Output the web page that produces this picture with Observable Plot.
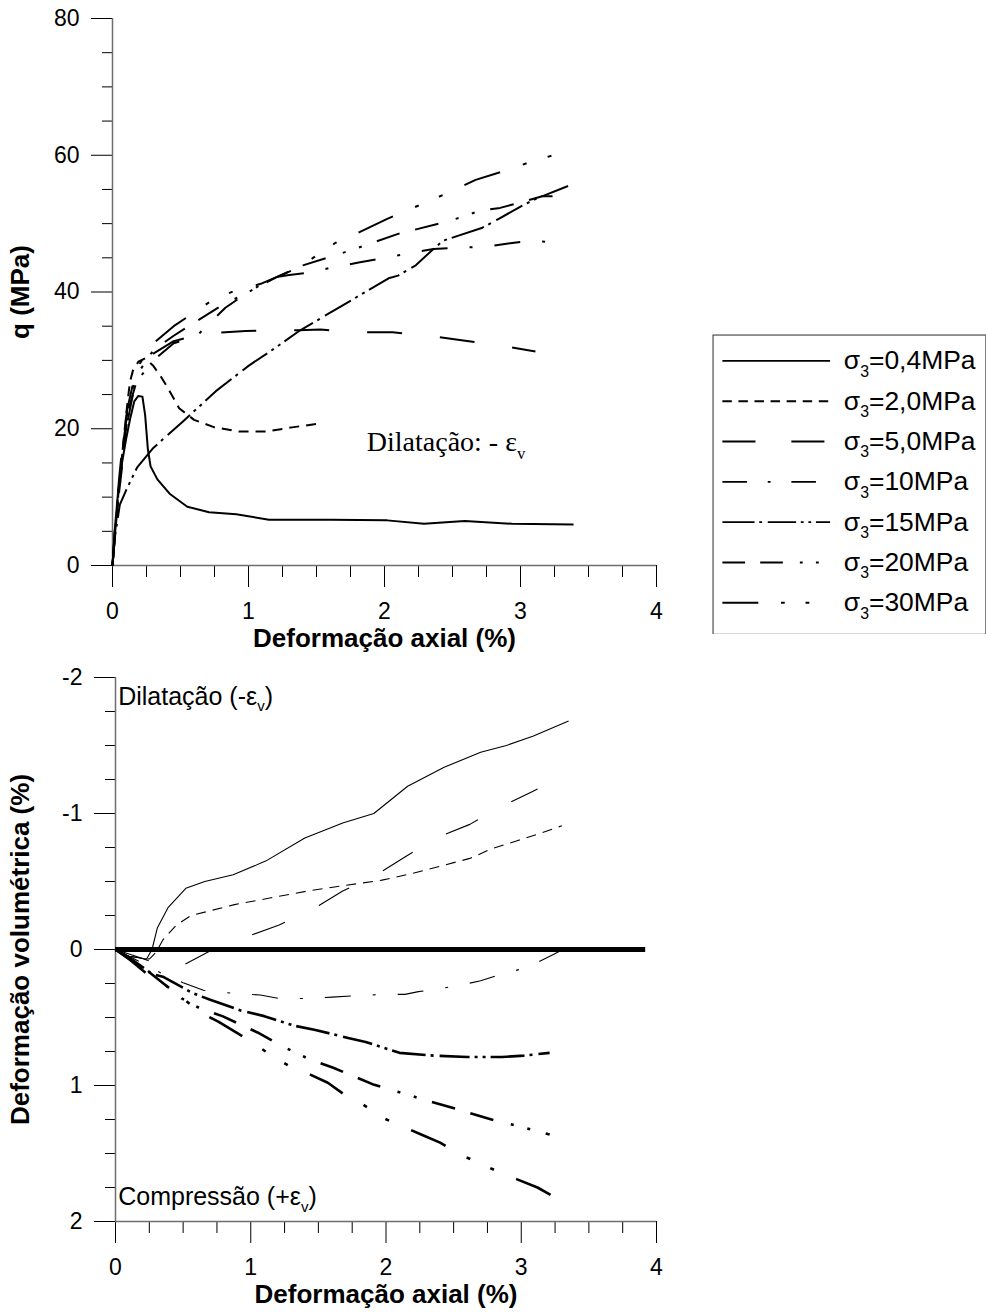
<!DOCTYPE html>
<html><head><meta charset="utf-8">
<script src="https://cdn.jsdelivr.net/npm/d3@7"></script>
<script src="https://cdn.jsdelivr.net/npm/@observablehq/plot@0.6"></script>
<style>
html,body{margin:0;padding:0;background:#fff;overflow:hidden;}
#wrap{position:relative;width:986px;height:1314px;overflow:hidden;background:#fff;}
#top,#bottom,#legend{position:absolute;}
#top{left:0;top:0}
#bottom{left:0;top:660px}
#legend{left:712px;top:334px}
</style></head><body><div id="wrap"><div id="top"></div><div id="bottom"></div><div id="legend"></div></div>
<script>
// ---------- DATA ----------
const seriesNames = ["σ_3=0,4MPa","σ_3=2,0MPa","σ_3=5,0MPa","σ_3=10MPa","σ_3=15MPa","σ_3=20MPa","σ_3=30MPa"];
const xTicks = [0,1,2,3,4];
const xMinorTicks = [0.25,0.5,0.75,1.25,1.5,1.75,2.25,2.5,2.75,3.25,3.5,3.75];
const qTicks = [0,20,40,60,80];
const qMinorTicks = [5,10,15,25,30,35,45,50,55,65,70,75];
const evTicks = [-2,-1,0,1,2];
const evMinorTicks = [-1.75,-1.5,-1.25,-0.75,-0.5,-0.25,0.25,0.5,0.75,1.25,1.5,1.75];

// q (MPa) vs axial strain (%)
const qAx04 = [0,0.02,0.04,0.07,0.1,0.13,0.16,0.19,0.22,0.24,0.26,0.28,0.33,0.42,0.55,0.71,0.91,1.15,1.6,2.02,2.29,2.59,2.94,3.39];
const q04   = [0,6,10.5,15,18.5,21.5,24,24.8,24.7,22,17,14.5,12.6,10.5,8.6,7.8,7.5,6.7,6.7,6.6,6.1,6.5,6.1,6.0];
const qAx2  = [0,0.02,0.05,0.08,0.1,0.12,0.13,0.15,0.19,0.24,0.3,0.36,0.42,0.49,0.6,0.75,0.93,1.13,1.32,1.5];
const q2    = [0,5,12,18,22,25.5,27,28.5,29.8,30.3,29.2,27.5,25.5,23,21.3,20.2,19.6,19.6,20.2,20.7];
const qAx5  = [0,0.02,0.05,0.08,0.11,0.15,0.2,0.3,0.45,0.6,0.75,0.98,1.37,1.53,1.8,2.06,2.32,2.58,2.84,3.11];
const q5    = [0,6,13,19,23,26.5,28.5,31,32.8,33.6,34,34.3,34.4,34.5,34.1,34.1,33.6,32.9,32.2,31.3];
const qAx10 = [0,0.02,0.05,0.08,0.11,0.15,0.2,0.3,0.45,0.62,0.83,1.0,1.18,1.3,1.43,1.62,1.81,1.97,2.17,2.36,2.54,2.73,2.91,3.09,3.28];
const q10   = [0,5,11,16,21,25,27.5,30,32.5,33.6,37.7,40,42.1,42.5,42.8,43.6,44.3,44.9,45.6,46.3,46.5,46.6,47.1,47.5,47.2];
const qAx15 = [0,0.02,0.054,0.1,0.18,0.3,0.52,0.76,1.0,1.18,1.38,1.68,2.03,2.1,2.23,2.36,2.43,2.72,2.84,3.01,3.12,3.35];
const q15   = [0,4.5,8.9,11,14.3,17.2,21.1,25.5,29.2,31.6,34.4,37.9,42,42.4,43.9,46.3,47.5,49.4,50.7,52.6,53.7,55.5];
const qAx20 = [0,0.02,0.05,0.08,0.12,0.2,0.3,0.45,0.6,0.8,1.0,1.2,1.4,1.66,1.81,2.1,2.4,2.56,2.7,2.85,3.0,3.16,3.32];
const q20   = [0,5,11,17,23,28.5,31.5,33.6,35.5,38,40,42.1,43.9,45.5,46.5,48.5,50,50.9,51.9,52.3,53.1,54,54];
const qAx30 = [0,0.02,0.05,0.08,0.12,0.2,0.3,0.45,0.6,0.74,0.89,1.09,1.37,1.64,1.82,2.02,2.21,2.49,2.67,2.88,3.07,3.34];
const q30   = [0,6,12,18,24,29.5,32.5,35,37,38.9,40.1,41.2,43.6,47.2,48.8,50.7,52.3,54.7,56.4,57.7,59,60.6];

// volumetric strain (%) vs axial strain (%)
const vAx04 = [0,0.1,0.23,0.27,0.31,0.39,0.52,0.66,0.87,1.11,1.4,1.68,1.91,2.16,2.43,2.7,2.89,3.09,3.35];
const v04   = [0,0.05,0.07,0,-0.16,-0.31,-0.45,-0.5,-0.55,-0.65,-0.82,-0.93,-1.0,-1.2,-1.34,-1.45,-1.5,-1.57,-1.68];
const vAx2  = [0,0.1,0.25,0.3,0.35,0.45,0.56,0.88,1.15,1.42,1.69,1.97,2.2,2.43,2.62,2.78,2.97,3.13,3.3];
const v2    = [0,0.05,0.07,0.02,-0.07,-0.18,-0.25,-0.33,-0.38,-0.43,-0.47,-0.51,-0.56,-0.62,-0.67,-0.74,-0.8,-0.85,-0.91];
const vAx5  = [0,0.15,0.3,0.48,0.72,0.96,1.21,1.45,1.68,1.93,2.14,2.37,2.62,2.85,3.08,3.12];
const v5    = [0,0.05,0.1,0.125,0.0,-0.09,-0.18,-0.29,-0.43,-0.55,-0.68,-0.82,-0.92,-1.05,-1.16,-1.18];
const vAx10 = [0,0.1,0.2,0.35,0.5,0.65,0.85,1.07,1.21,1.4,1.6,1.78,1.97,2.14,2.24,2.51,2.7,2.86,3.05,3.23,3.31];
const v10   = [0,0.05,0.1,0.18,0.245,0.3,0.32,0.335,0.36,0.36,0.35,0.34,0.33,0.33,0.31,0.27,0.23,0.18,0.13,0.04,0.0];
const vAx15 = [0,0.1,0.2,0.27,0.35,0.57,0.7,0.93,1.1,1.32,1.47,1.72,1.85,2.1,2.35,2.6,2.86,3.02,3.21];
const v15   = [0,0.06,0.13,0.18,0.2,0.32,0.37,0.45,0.49,0.56,0.59,0.65,0.68,0.76,0.78,0.79,0.79,0.78,0.76];
const vAx20 = [0,0.1,0.24,0.38,0.49,0.62,0.79,1.05,1.23,1.44,1.61,1.9,2.1,2.3,2.51,2.78,2.98,3.21];
const v20   = [0,0.07,0.16,0.27,0.36,0.43,0.49,0.61,0.71,0.81,0.87,0.99,1.05,1.11,1.17,1.25,1.3,1.36];
const vAx30 = [0,0.1,0.22,0.38,0.5,0.62,0.76,0.91,1.02,1.17,1.29,1.44,1.57,1.71,1.83,1.98,2.12,2.26,2.4,2.55,2.67,2.82,2.97,3.12,3.3];
const v30   = [0,0.07,0.17,0.27,0.36,0.46,0.53,0.62,0.69,0.79,0.86,0.92,0.98,1.08,1.14,1.24,1.3,1.36,1.42,1.51,1.56,1.63,1.69,1.75,1.85];

// ---------- STYLE ----------
const dashes = [null, "10,7", "35,38", "26,22,3,22", "34,5,3,6,30,5,3,5,3,5", "24,16,24,18,3,14,3,16", "38,24,4,22,4,24"];
const topWidths = [2,2,2,2,2,2,2];
const botWidths = [1.1,1.1,1.1,1.1,2.6,2.6,2.6];
const FONT = "Arial, 'Liberation Sans', Helvetica, sans-serif";
const SERIF = "'Liberation Serif', 'Times New Roman', Times, serif";
const TICK_FS = 23, TITLE_FS = 26, NOTE_FS = 25, LEG_FS = 28, SERIF_FS = 28;

const qSets = [[qAx04,q04],[qAx2,q2],[qAx5,q5],[qAx10,q10],[qAx15,q15],[qAx20,q20],[qAx30,q30]];
const vSets = [[vAx04,v04],[vAx2,v2],[vAx5,v5],[vAx10,v10],[vAx15,v15],[vAx20,v20],[vAx30,v30]];
const toRows = ([xs, ys], i) => xs.map((x, k) => ({x, y: ys[k], s: i}));

function seriesMarks(sets, widths) {
  return sets.map((set, i) => Plot.line(toRows(set, i), {
    x: "x", y: "y", stroke: "#000", strokeWidth: widths[i],
    strokeDasharray: dashes[i] || undefined, strokeLinejoin: "round", strokeLinecap: "butt"
  }));
}

function applySubscripts(svg, subScale, shift) {
  const NS = "http://www.w3.org/2000/svg";
  svg.querySelectorAll("text").forEach(t => {
    const s = t.textContent;
    if (!s.includes("_")) return;
    const g = t.closest("[font-size]");
    const fs = parseFloat((g && g.getAttribute("font-size")) || 20);
    const parts = s.split(/_(.)/);
    t.textContent = "";
    parts.forEach((p, i) => {
      if (!p) return;
      const ts = document.createElementNS(NS, "tspan");
      ts.textContent = p;
      if (i % 2 === 1) { ts.setAttribute("font-size", fs * subScale); ts.setAttribute("dy", fs * shift); }
      else if (i > 0) ts.setAttribute("dy", -fs * shift);
      t.appendChild(ts);
    });
  });
}

const axisStroke = "#6e6e6e";

function axes(yTicks, yMinor) {
  return [
    Plot.axisX({ticks: xTicks, tickSize: 22, tickPadding: 15, tickFormat: d => String(d), label: null, fontSize: TICK_FS}),
    Plot.axisX({ticks: xMinorTicks, tickSize: 12, tickFormat: () => "", label: null}),
    Plot.axisY({ticks: yTicks, tickSize: 21, tickPadding: 12, tickFormat: d => String(d), label: null, fontSize: TICK_FS}),
    Plot.axisY({ticks: yMinor, tickSize: 10, tickFormat: () => "", label: null})
  ];
}

// ---------- TOP CHART ----------
const topPlot = Plot.plot({
  width: 700, height: 660,
  marginLeft: 112, marginRight: 44, marginTop: 18, marginBottom: 95,
  x: {domain: [0, 4]},
  y: {domain: [0, 80]},
  style: {fontFamily: FONT, fontSize: "20px", color: "#000", background: "transparent", overflow: "visible"},
  marks: [
    ...axes(qTicks, qMinorTicks),
    Plot.ruleY([0], {x1: 0, x2: 4, stroke: axisStroke, strokeWidth: 1.5}),
    Plot.ruleX([0], {y1: 0, y2: 80, stroke: axisStroke, strokeWidth: 1.5}),
    ...seriesMarks(qSets, topWidths),
    Plot.text(["Dilatação: - ε_v"], {x: 1.87, y: 18, textAnchor: "start", fontFamily: SERIF, fontSize: SERIF_FS}),
    Plot.text(["q (MPa)"], {frameAnchor: "left", dx: -92, rotate: -90, textAnchor: "middle", lineAnchor: "middle", fontWeight: "bold", fontSize: TITLE_FS}),
    Plot.text(["Deformação axial (%)"], {frameAnchor: "bottom", dy: 73, textAnchor: "middle", lineAnchor: "middle", fontWeight: "bold", fontSize: TITLE_FS})
  ]
});
applySubscripts(topPlot, 0.6, 0.26);
document.getElementById("top").appendChild(topPlot);

// ---------- BOTTOM CHART ----------
const botPlot = Plot.plot({
  width: 700, height: 654,
  marginLeft: 115, marginRight: 44, marginTop: 17, marginBottom: 93,
  x: {domain: [0, 4]},
  y: {domain: [2, -2]},
  style: {fontFamily: FONT, fontSize: "20px", color: "#000", background: "transparent", overflow: "visible"},
  marks: [
    ...axes(evTicks, evMinorTicks),
    Plot.ruleY([2], {x1: 0, x2: 4, stroke: axisStroke, strokeWidth: 1.5}),
    Plot.ruleX([0], {y1: -2, y2: 2, stroke: axisStroke, strokeWidth: 1.5}),
    Plot.ruleY([0], {x1: 0, x2: 3.92, stroke: "#000", strokeWidth: 5}),
    ...seriesMarks(vSets, botWidths),
    Plot.text(["Dilatação (-ε_v)"], {x: 0.02, y: -1.86, textAnchor: "start", fontSize: NOTE_FS}),
    Plot.text(["Compressão (+ε_v)"], {x: 0.02, y: 1.82, textAnchor: "start", fontSize: NOTE_FS}),
    Plot.text(["Deformação volumétrica (%)"], {frameAnchor: "left", dx: -95, rotate: -90, textAnchor: "middle", lineAnchor: "middle", fontWeight: "bold", fontSize: TITLE_FS}),
    Plot.text(["Deformação axial (%)"], {frameAnchor: "bottom", dy: 73, textAnchor: "middle", lineAnchor: "middle", fontWeight: "bold", fontSize: TITLE_FS})
  ]
});
applySubscripts(botPlot, 0.6, 0.26);
document.getElementById("bottom").appendChild(botPlot);

// ---------- LEGEND ----------
const legendRows = seriesNames.map((name, i) => ({name, i}));
const legPlot = Plot.plot({
  width: 290, height: 318, margin: 0,
  x: {domain: [0, 1], range: [11, 125], axis: null},
  y: {domain: [0, 6], range: [28, 284], axis: null},
  style: {fontFamily: FONT, fontSize: "21px", color: "#000", background: "transparent"},
  marks: [
    Plot.frame({stroke: "#444", strokeWidth: 1.2, inset: 0.6}),
    ...legendRows.map(r => Plot.ruleY([r.i], {x1: 0, x2: 1, stroke: "#000", strokeWidth: 2, strokeDasharray: dashes[r.i] || undefined})),
    Plot.text(legendRows, {x: 1, y: "i", text: "name", dx: 14, textAnchor: "start", fontSize: LEG_FS})
  ]
});
applySubscripts(legPlot, 0.6, 0.28);
document.getElementById("legend").appendChild(legPlot);
</script></body></html>
